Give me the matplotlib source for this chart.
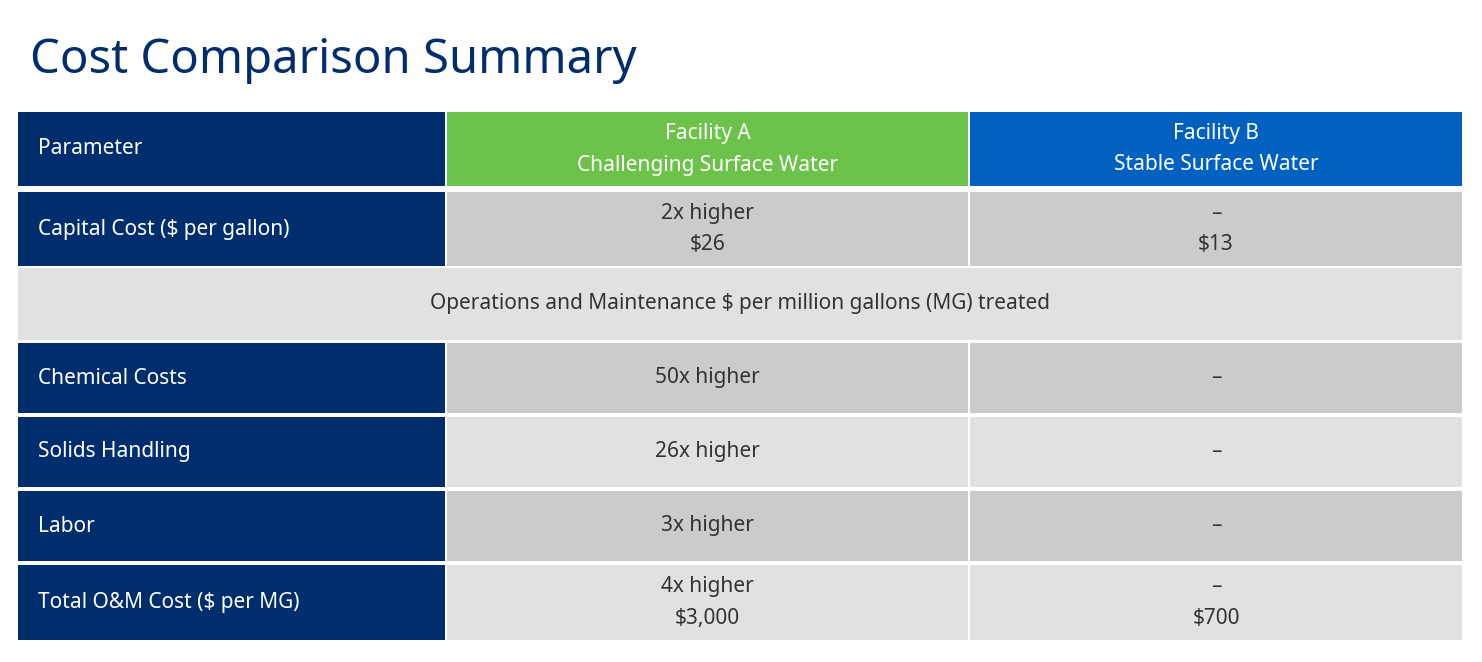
import matplotlib
matplotlib.use("Agg")
import matplotlib.pyplot as plt
from matplotlib.patches import Rectangle

title = "Cost Comparison Summary"
header = ["Parameter", ("Facility A", "Challenging Surface Water"), ("Facility B", "Stable Surface Water")]
params = ["Capital Cost ($ per gallon)", None, "Chemical Costs", "Solids Handling", "Labor", "Total O&M Cost ($ per MG)"]
facA = [("2x higher", "$26"), None, ("50x higher",), ("26x higher",), ("3x higher",), ("4x higher", "$3,000")]
facB = [("–", "$13"), None, ("–",), ("–",), ("–",), ("–", "$700")]
span_text = "Operations and Maintenance $ per million gallons (MG) treated"

W, H = 1482, 662
fig = plt.figure(figsize=(W/100, H/100), dpi=100)
ax = fig.add_axes([0, 0, 1, 1])
ax.set_xlim(0, W); ax.set_ylim(H, 0); ax.axis("off")

NAVY = "#002D6E"; GREEN = "#6CC24A"; BLUE = "#0061C1"
G1 = "#CBCBCB"; G2 = "#E1E1E1"; TXT = "#333333"
FONT = "Noto Sans"

ax.text(30, 60, title, fontsize=34, fontweight="bold", color=NAVY, va="center", family=FONT)

cols = [(18, 445), (447, 968), (970, 1462)]
rows = [(192, 266), (268, 340), (343, 413), (417, 487), (491, 561), (565, 640)]

def rect(x0, x1, y0, y1, c):
    ax.add_patch(Rectangle((x0, y0), x1 - x0, y1 - y0, color=c, lw=0))

def lines(xc, yc, txts, bold_second=False, color=TXT, size=15):
    n = len(txts)
    for i, t in enumerate(txts):
        y = yc + (i - (n - 1) / 2) * 32
        ax.text(xc, y, t, ha="center", va="center", fontsize=size, color=color, family=FONT,
                fontweight="bold" if (bold_second and i == 1) else "normal")

# header
rect(*cols[0], 112, 186, NAVY)
rect(*cols[1], 112, 186, GREEN)
rect(*cols[2], 112, 186, BLUE)
ax.text(38, 149, header[0], fontsize=15, fontweight="bold", color="white", va="center", family=FONT)
for ci in (1, 2):
    xc = sum(cols[ci]) / 2
    lines(xc, 149, header[ci], bold_second=True, color="white")

for ri, (y0, y1) in enumerate(rows):
    g = G1 if ri % 2 == 0 else G2
    yc = (y0 + y1) / 2
    if params[ri] is None:
        rect(cols[0][0], cols[2][1], y0, y1, g)
        ax.text((cols[0][0] + cols[2][1]) / 2, yc, span_text, ha="center", va="center",
                fontsize=15, color=TXT, family=FONT)
        continue
    rect(*cols[0], y0, y1, NAVY)
    rect(*cols[1], y0, y1, g)
    rect(*cols[2], y0, y1, g)
    ax.text(38, yc, params[ri], fontsize=15, fontweight="bold", color="white", va="center", family=FONT)
    lines(sum(cols[1]) / 2, yc, facA[ri])
    lines(sum(cols[2]) / 2, yc, facB[ri])

fig.savefig("out.png", dpi=100, facecolor="white")
